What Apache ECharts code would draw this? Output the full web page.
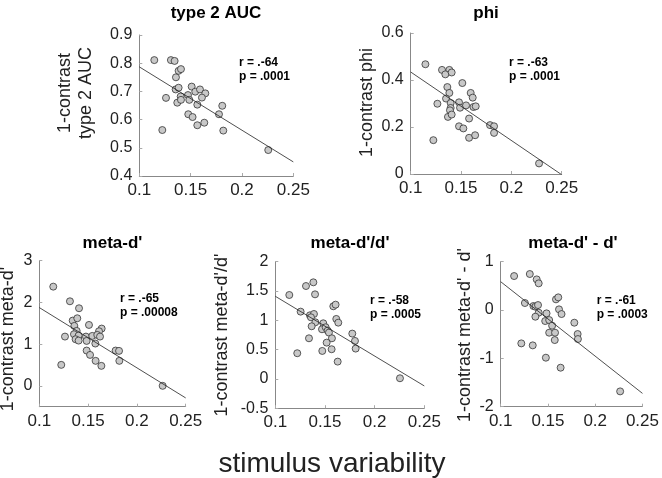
<!DOCTYPE html>
<html>
<head>
<meta charset="utf-8">
<script src="https://cdn.jsdelivr.net/npm/echarts@6/dist/echarts.min.js"></script>
<style>
html, body { margin: 0; padding: 0; background: #fff; }
#chart { width: 662px; height: 478px; }
</style>
</head>
<body>
<div id="chart"></div>
<script>
// panel 1: type 2 AUC
var aucX = [0.1146, 0.1308, 0.1344, 0.1224, 0.1260, 0.1357, 0.1383, 0.1406, 0.1354, 0.1383, 0.1370, 0.1403, 0.1406, 0.1474, 0.1487, 0.1510, 0.1545, 0.1591, 0.1643, 0.1610, 0.1565, 0.1477, 0.1519, 0.1565, 0.1633, 0.1776, 0.1808, 0.1818, 0.2256];
var aucY = [0.811, 0.811, 0.808, 0.563, 0.677, 0.750, 0.773, 0.779, 0.707, 0.713, 0.660, 0.682, 0.670, 0.687, 0.670, 0.717, 0.699, 0.707, 0.693, 0.678, 0.653, 0.619, 0.609, 0.580, 0.589, 0.619, 0.649, 0.561, 0.492];
var aucFit = [[0.1, 0.787], [0.25, 0.45]];

// panel 2: phi
var phiX = [0.1146, 0.1311, 0.1384, 0.1344, 0.1407, 0.1364, 0.1513, 0.1384, 0.1265, 0.1351, 0.1397, 0.1397, 0.1390, 0.1370, 0.1407, 0.1480, 0.1490, 0.1550, 0.1596, 0.1616, 0.1623, 0.1646, 0.1580, 0.1480, 0.1523, 0.1580, 0.1640, 0.1225, 0.1788, 0.1828, 0.1828, 0.2275];
var phiY = [0.467, 0.443, 0.443, 0.424, 0.432, 0.370, 0.387, 0.345, 0.299, 0.321, 0.302, 0.281, 0.271, 0.243, 0.253, 0.305, 0.282, 0.292, 0.345, 0.325, 0.285, 0.288, 0.236, 0.203, 0.194, 0.154, 0.165, 0.144, 0.208, 0.203, 0.175, 0.045];
var phiFit = [[0.1, 0.434], [0.25, -0.003]];

// panel 3: meta-d'
var mdX = [0.1143, 0.1314, 0.1407, 0.1342, 0.1389, 0.1359, 0.1509, 0.1639, 0.1612, 0.1383, 0.1355, 0.1403, 0.1263, 0.1372, 0.1403, 0.1478, 0.1485, 0.1543, 0.1594, 0.1622, 0.1574, 0.1485, 0.1520, 0.1577, 0.1636, 0.1225, 0.1782, 0.1817, 0.1820, 0.2264];
var mdY = [2.378, 2.027, 1.86, 1.564, 1.62, 1.437, 1.46, 1.373, 1.309, 1.317, 1.237, 1.205, 1.181, 1.117, 1.085, 1.181, 1.077, 1.197, 1.221, 1.181, 1.014, 0.846, 0.742, 0.599, 0.479, 0.503, 0.846, 0.838, 0.599, 0.0];
var mdFit = [[0.1, 1.876], [0.25, -0.29]];

// panel 4: meta-d'/d'
var ratioX = [0.1141, 0.1309, 0.1383, 0.1400, 0.1255, 0.1349, 0.1389, 0.1359, 0.1403, 0.1366, 0.1483, 0.1470, 0.1507, 0.1527, 0.1540, 0.1339, 0.1570, 0.1517, 0.1473, 0.1567, 0.1221, 0.1584, 0.1607, 0.1614, 0.1634, 0.1628, 0.1775, 0.1802, 0.1809, 0.2255];
var ratioY = [1.432, 1.585, 1.648, 1.443, 1.148, 1.085, 1.108, 1.051, 0.966, 0.898, 0.949, 0.847, 0.881, 0.824, 0.790, 0.693, 0.693, 0.619, 0.477, 0.506, 0.438, 1.239, 1.267, 1.023, 0.960, 0.295, 0.773, 0.648, 0.517, 0.011];
var ratioFit = [[0.1, 1.41], [0.25, -0.12]];

// panel 5: meta-d' - d'
var diffX = [0.1142, 0.1308, 0.1381, 0.1402, 0.1256, 0.1346, 0.1367, 0.1395, 0.1402, 0.1367, 0.1485, 0.1471, 0.1513, 0.1544, 0.1513, 0.1575, 0.1572, 0.1585, 0.1609, 0.1617, 0.1644, 0.1779, 0.1814, 0.1817, 0.1218, 0.1339, 0.1478, 0.1634, 0.2264];
var diffY = [0.703, 0.745, 0.634, 0.552, 0.145, 0.083, 0.069, 0.103, -0.055, -0.138, -0.069, -0.228, -0.207, -0.324, -0.469, -0.469, -0.621, 0.221, 0.262, 0.014, -0.083, -0.262, -0.497, -0.600, -0.690, -0.731, -0.986, -1.193, -1.683];
var diffFit = [[0.1, 0.586], [0.25, -1.724]];

var xTicks = [0.1, 0.25, 0.05];

var panels = [
    {title: 'type 2 AUC', yName: '1-contrast\ntype 2 AUC', x: aucX, y: aucY, fit: aucFit, yMin: 0.4, yMax: 0.9, yStep: 0.1, r: 'r = .-64', p: 'p = .0001'},
    {title: 'phi', yName: '1-contrast phi', x: phiX, y: phiY, fit: phiFit, yMin: 0, yMax: 0.6, yStep: 0.2, r: 'r = .-63', p: 'p = .0001'},
    {title: "meta-d'", yName: "1-contrast meta-d'", x: mdX, y: mdY, fit: mdFit, yMin: -0.5, yMax: 3, yLabels: [0, 1, 2, 3], r: 'r = .-65', p: 'p = .00008'},
    {title: "meta-d'/d'", yName: "1-contrast meta-d'/d'", x: ratioX, y: ratioY, fit: ratioFit, yMin: -0.5, yMax: 2, yStep: 0.5, r: 'r = .-58', p: 'p = .0005'},
    {title: "meta-d' - d'", yName: "1-contrast meta-d' - d'", x: diffX, y: diffY, fit: diffFit, yMin: -2, yMax: 1, yStep: 1, r: 'r = .-61', p: 'p = .0003'}
];

// layout (px)
var grids = [
    {left: 139.3, top: 35, width: 154, height: 141},
    {left: 410.7, top: 33, width: 151, height: 141},
    {left: 39.3, top: 260.7, width: 146.4, height: 146},
    {left: 275.3, top: 261.7, width: 149, height: 146.5},
    {left: 500.7, top: 261.7, width: 144.3, height: 145}
];
var titlePos = [[216, 13], [486, 13], [112.5, 243], [350, 243], [573, 243]];
var yNamePos = [[75.5, 93], [367, 102.5], [8.3, 339], [222, 335], [465, 335]];
var notePos = [[239, 63], [509, 63], [120, 299], [370, 300.7], [596.7, 300.7]];

var font = 'Liberation Sans, Arial, Helvetica, sans-serif';

var option = {
    animation: false,
    backgroundColor: '#fff',
    grid: [],
    xAxis: [],
    yAxis: [],
    series: [],
    graphic: []
};

panels.forEach(function (pn, i) {
    option.grid.push(grids[i]);
    option.xAxis.push({
        type: 'value', gridIndex: i,
        min: xTicks[0], max: xTicks[1], interval: xTicks[2],
        splitLine: {show: false},
        axisLine: {onZero: false, lineStyle: {color: '#888', width: 1}},
        axisTick: {inside: true, length: 3, lineStyle: {color: '#aaa'}},
        axisLabel: {color: '#222', fontSize: 17, fontFamily: font, margin: 6}
    });
    var ya = {
        type: 'value', gridIndex: i,
        min: pn.yMin, max: pn.yMax,
        splitLine: {show: false},
        axisLine: {show: true, onZero: false, lineStyle: {color: '#888', width: 1}},
        axisTick: {inside: true, length: 3, lineStyle: {color: '#aaa'}},
        axisLabel: {color: '#222', fontSize: 16, fontFamily: font, margin: 7}
    };
    if (pn.yLabels) {
        ya.axisLabel.customValues = pn.yLabels;
        ya.axisTick.customValues = pn.yLabels;
    } else {
        ya.interval = pn.yStep;
    }
    option.yAxis.push(ya);

    var pts = pn.x.map(function (v, k) { return [v, pn.y[k]]; });
    option.series.push({
        type: 'line', xAxisIndex: i, yAxisIndex: i,
        data: pn.fit, symbol: 'none', silent: true,
        lineStyle: {color: '#222', width: 0.8}
    });
    option.series.push({
        type: 'scatter', xAxisIndex: i, yAxisIndex: i,
        data: pts, symbolSize: 7,
        itemStyle: {color: '#c8c8c8', borderColor: '#333', borderWidth: 0.8, opacity: 1}
    });

    option.graphic.push({
        type: 'text', x: titlePos[i][0], y: titlePos[i][1],
        style: {text: pn.title, fontSize: 17, fontWeight: 'bold', fontFamily: font, fill: '#000', textAlign: 'center', textVerticalAlign: 'middle'}
    });
    option.graphic.push({
        type: 'text', x: yNamePos[i][0], y: yNamePos[i][1], rotation: Math.PI / 2,
        style: {text: pn.yName, fontSize: 18, lineHeight: 21, fontFamily: font, fill: '#222', textAlign: 'center', textVerticalAlign: 'middle'}
    });
    // r / p note, first line centred on the given y
    option.graphic.push({
        type: 'text', x: notePos[i][0], y: notePos[i][1] - 7,
        style: {text: pn.r + '\n' + pn.p, fontSize: 12, lineHeight: 14, fontWeight: 'bold', fontFamily: font, fill: '#000', textAlign: 'left', textVerticalAlign: 'top'}
    });
});

option.graphic.push({
    type: 'text', x: 332, y: 464,
    style: {text: 'stimulus variability', fontSize: 28, fontFamily: font, fill: '#222', textAlign: 'center', textVerticalAlign: 'middle'}
});

var myChart = echarts.init(document.getElementById('chart'));
myChart.setOption(option);
</script>
</body>
</html>
